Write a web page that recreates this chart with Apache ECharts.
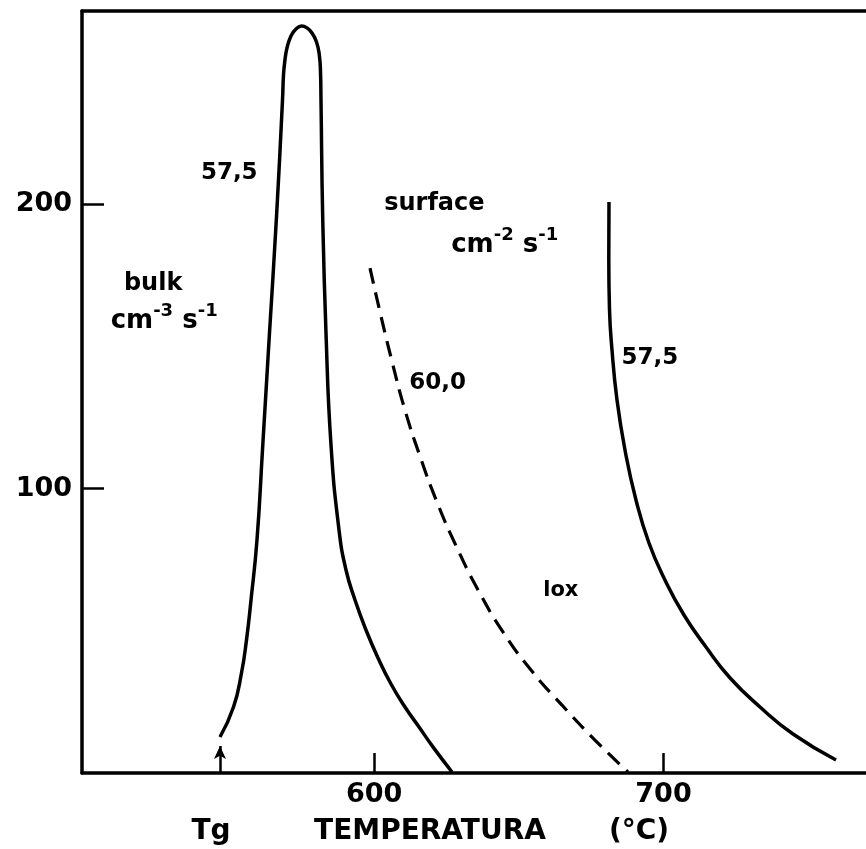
<!DOCTYPE html>
<html><head><meta charset="utf-8">
<script src="https://cdn.jsdelivr.net/npm/echarts@6/dist/echarts.min.js"></script>
<style>html,body{margin:0;padding:0;background:#fff}#c{width:866px;height:849px}</style>
</head><body><div id="c"></div>
<script>
// ---- data (temperature in °C, nucleation rate) ----
const bulkT = [546.70, 551.37, 554.13, 555.86, 557.42, 559.49, 561.39, 563.81, 566.23, 568.31, 568.65, 569.07, 569.86, 571.24, 572.97, 574.94, 576.77, 578.50, 580.06, 581.03, 581.44, 581.61, 582.20, 583.34, 585.07, 587.84, 590.26, 593.37, 597.17, 601.32, 605.81, 610.65, 615.49, 620.30, 626.90];
const bulkV = [12.66, 23.21, 35.17, 46.78, 60.85, 81.96, 113.61, 154.77, 195.57, 236.72, 245.52, 250.09, 255.01, 259.23, 261.70, 262.75, 262.05, 260.29, 257.12, 252.55, 246.57, 236.72, 195.57, 154.77, 115.37, 85.47, 71.40, 60.85, 50.30, 40.45, 31.31, 23.21, 16.18, 9.20, 0.35];

const surf60T = [598.55, 602.0, 606.2, 610.6, 615.8, 621.7, 628.3, 635.9, 644.5, 654.2, 664.9, 676.3, 687.7];
const surf60V = [177.6, 162.2, 144.6, 127.8, 111.5, 95.3, 79.9, 64.4, 49.6, 36.2, 23.9, 11.6, 0.35];

const surf575T = [681.16, 681.09, 681.33, 682.20, 683.93, 686.69, 690.49, 694.98, 700.51, 707.08, 714.69, 723.03, 733.36, 744.77, 759.64];
const surf575V = [200.84, 180.80, 163.21, 148.79, 131.20, 113.61, 96.03, 80.90, 67.89, 55.57, 44.32, 33.42, 23.22, 13.72, 4.57];

const xTicks = [600, 700];
const yTicks = [100, 200];
const tgTemp = 546.7;

const annotations = [
  {text: '57,5', t: 549.9, v: 211.1},
  {text: 'bulk', t: 523.6, v: 172.1, size: 24},
  {rich: ['cm', '-3', ' s', '-1'], t: 527.4, v: 159.8},
  {text: 'surface', t: 620.8, v: 200.2, size: 24},
  {rich: ['cm', '-2', ' s', '-1'], t: 645.1, v: 186.8},
  {text: '60,0', t: 621.9, v: 137.0},
  {text: '57,5', t: 695.3, v: 145.8},
  {text: 'lox', t: 664.5, v: 64.2, size: 21}
];
const bottomTexts = [
  {text: 'Tg', x: 211, y: 832},
  {text: 'TEMPERATURA', x: 430, y: 832},
  {text: '(°C)', x: 639, y: 832}
];

// ---- chart ----
const zip = (a, b) => a.map((x, i) => [x, b[i]]);
const FONT = '"DejaVu Sans", sans-serif';
const chart = echarts.init(document.getElementById('c'), null, {renderer: 'canvas'});
const black = '#000';
const lineBase = {type: 'line', symbol: 'none', showSymbol: false, smooth: 0.5, silent: true, animation: false, z: 3};

chart.setOption({
  animation: false,
  backgroundColor: '#fff',
  grid: {left: 82, right: 0, top: 11, bottom: 76, containLabel: false},
  xAxis: [{
    type: 'value', min: 499, max: 770, position: 'bottom',
    axisLine: {show: true, onZero: false, lineStyle: {color: black, width: 3.5}},
    axisTick: {show: true, inside: true, length: 20, customValues: xTicks, lineStyle: {color: black, width: 2.5}},
    axisLabel: {show: true, customValues: xTicks, margin: 8, color: black, fontSize: 27, fontWeight: 'bold', fontFamily: FONT},
    splitLine: {show: false}
  }, {
    type: 'value', min: 499, max: 770, position: 'top',
    axisLine: {show: true, onZero: false, lineStyle: {color: black, width: 3.5}},
    axisTick: {show: false}, axisLabel: {show: false}, splitLine: {show: false}
  }],
  yAxis: {
    type: 'value', min: 0, max: 268,
    axisLine: {show: true, onZero: false, lineStyle: {color: black, width: 3.5}},
    axisTick: {show: true, inside: true, length: 22, customValues: yTicks, lineStyle: {color: black, width: 2.5}},
    axisLabel: {show: true, customValues: yTicks, margin: 10, color: black, fontSize: 27, fontWeight: 'bold', fontFamily: FONT},
    splitLine: {show: false}
  },
  series: [
    Object.assign({}, lineBase, {
      name: 'bulk 57,5', data: zip(bulkT, bulkV),
      lineStyle: {color: black, width: 3.5},
      markLine: {
        silent: true, symbol: ['none', 'arrow'], symbolSize: [9, 13],
        label: {show: false}, emphasis: {disabled: true},
        lineStyle: {color: black, width: 2.5, type: 'solid'},
        data: [[{coord: [tgTemp, 0]}, {coord: [tgTemp, 9.5]}]]
      }
    }),
    Object.assign({}, lineBase, {
      name: 'surface 60,0', data: zip(surf60T, surf60V),
      lineStyle: {color: black, width: 3.2, type: [16, 9]}
    }),
    Object.assign({}, lineBase, {
      name: 'surface 57,5', data: zip(surf575T, surf575V),
      lineStyle: {color: black, width: 3.5}
    })
  ]
});

const graphics = [];
annotations.forEach(a => {
  const p = chart.convertToPixel({xAxisIndex: 0, yAxisIndex: 0}, [a.t, a.v]);
  if (a.rich) {
    graphics.push({
      type: 'text', x: p[0], y: p[1], silent: true,
      style: {
        text: '{a|' + a.rich[0] + '}{s|' + a.rich[1] + '}{a|' + a.rich[2] + '}{s|' + a.rich[3] + '}',
        align: 'center', verticalAlign: 'middle',
        rich: {
          a: {fontSize: 26, fontWeight: 'bold', fontFamily: FONT, fill: black, lineHeight: 32, verticalAlign: 'bottom'},
          s: {fontSize: 18, fontWeight: 'bold', fontFamily: FONT, fill: black, lineHeight: 32, verticalAlign: 'top'}
        }
      }
    });
  } else {
    graphics.push({
      type: 'text', x: p[0], y: p[1], silent: true,
      style: {text: a.text, fontSize: a.size || 23, fontWeight: 'bold', fontFamily: FONT, fill: black, align: 'center', verticalAlign: 'middle'}
    });
  }
});
bottomTexts.forEach(b => {
  graphics.push({
    type: 'text', x: b.x, y: b.y, silent: true,
    style: {text: b.text, fontSize: 28, fontWeight: 'bold', fontFamily: FONT, fill: black, align: 'center', verticalAlign: 'middle'}
  });
});
chart.setOption({graphic: graphics});
</script>
</body></html>
